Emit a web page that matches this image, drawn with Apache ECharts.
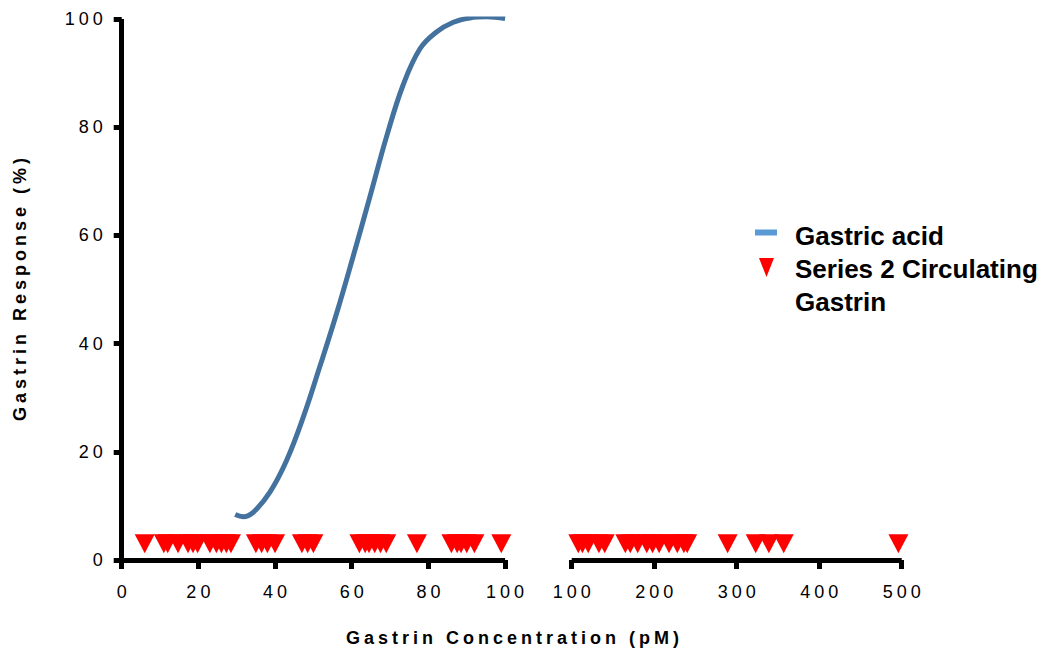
<!DOCTYPE html>
<html>
<head>
<meta charset="utf-8">
<script src="https://cdn.jsdelivr.net/npm/echarts@6/dist/echarts.min.js"></script>
<style>
html,body{margin:0;padding:0;background:#fff;}
#c{width:1050px;height:649px;}
</style>
</head>
<body>
<div id="c"></div>
<script>
// ---- data ----
const seriesNames = ['Gastric acid', 'Series 2 Circulating Gastrin'];
const acidX = [29.6, 31.7, 34.3, 38.7, 43.0, 47.4, 51.7, 56.1, 60.4, 64.8, 69.1, 73.4, 77.8, 82.1, 86.5, 90.8, 95.2, 100];
const acidY = [8.4, 8.0, 8.8, 12.6, 18.4, 26.5, 35.8, 45.7, 56.2, 67.3, 78.3, 87.8, 94.5, 97.6, 99.4, 100.2, 100.4, 100.1];
const gastrinConc = [6, 11, 12, 14.7, 17.3, 18.6, 19.8, 23, 24.7, 26, 27.3, 28.5,
  35, 36.5, 38, 40, 47, 48.5, 50, 62, 63.5, 64.5, 66, 67.5, 69, 77, 86, 87.5, 88.5, 90, 92, 99,
  108, 113, 120, 133, 140, 165, 171, 180, 191, 198, 206, 218, 228, 236, 240, 289, 323, 339, 357, 496];
const gastrinLevel = 3;
const xTicksLow = [0, 20, 40, 60, 80, 100];
const xTicksHigh = [100, 200, 300, 400, 500];
const yTicks = [0, 20, 40, 60, 80, 100];
const xTitle = 'Gastrin Concentration (pM)';
const yTitle = 'Gastrin Response (%)';

// ---- build ----
const FONT = '"Liberation Sans", Arial, Helvetica, sans-serif';
const SPACING = 4;
const acidData = acidX.map((x, i) => [x, acidY[i]]);
const lowData = gastrinConc.filter(v => v <= xTicksLow[xTicksLow.length - 1]).map(v => [v, gastrinLevel]);
const highData = gastrinConc.filter(v => v > xTicksLow[xTicksLow.length - 1]).map(v => [v, gastrinLevel]);

const axisLine = {show: true, onZero: false, lineStyle: {color: '#000', width: 5, cap: 'butt'}};
const tickX = {show: true, length: 9, lineStyle: {color: '#000', width: 5}};
const tickY = {show: true, length: 8, lineStyle: {color: '#000', width: 5}};
const labelX = {color: '#000', fontSize: 18, fontFamily: FONT, margin: 23};
const labelY = {color: '#000', fontSize: 18, fontFamily: FONT, margin: 15};

function rangeOf(t) { return {min: t[0], max: t[t.length - 1], interval: t[1] - t[0]}; }

const chart = echarts.init(document.getElementById('c'), null, {renderer: 'svg'});
const triPath = 'path://M0,0L0.01,0M4,5.5L19,5.5L11.5,24.5ZM35,66L35.01,66';
const rectPath = 'path://M0,0L22,0L22,6L0,6ZM35,13L35.01,13';

chart.setOption({
  animation: false,
  backgroundColor: '#fff',
  title: {
    text: xTitle, left: 346, top: 629, padding: 0,
    textStyle: {fontSize: 18, fontWeight: 'bold', fontFamily: FONT, color: '#000'}
  },
  grid: [
    {left: 121.7, top: 19, width: 383.4, height: 541},
    {left: 571.7, top: 19, width: 330, height: 541}
  ],
  xAxis: [
    Object.assign({gridIndex: 0, type: 'value', axisLine, axisTick: tickX, axisLabel: labelX, splitLine: {show: false}}, rangeOf(xTicksLow)),
    Object.assign({gridIndex: 1, type: 'value', axisLine, axisTick: tickX, axisLabel: labelX, splitLine: {show: false}}, rangeOf(xTicksHigh))
  ],
  yAxis: [
    Object.assign({gridIndex: 0, type: 'value', axisLine, axisTick: tickY, axisLabel: labelY, splitLine: {show: false},
      name: yTitle, nameLocation: 'middle', nameGap: 93,
      nameTextStyle: {fontSize: 18, fontWeight: 'bold', fontFamily: FONT, color: '#000'}}, rangeOf(yTicks)),
    Object.assign({gridIndex: 1, type: 'value', show: false}, rangeOf(yTicks))
  ],
  legend: [
    {
      orient: 'vertical', left: 755, top: 219.5, padding: 0,
      itemWidth: 35, itemHeight: 13,
      textStyle: {fontSize: 26, fontWeight: 'bold', fontFamily: FONT, color: '#000', lineHeight: 33},
      data: [{name: seriesNames[0], icon: rectPath, itemStyle: {color: '#5b9bd5', borderWidth: 0}}]
    },
    {
      orient: 'vertical', left: 755, top: 252.5, padding: 0,
      itemWidth: 35, itemHeight: 66,
      textStyle: {fontSize: 26, fontWeight: 'bold', fontFamily: FONT, color: '#000', lineHeight: 33},
      formatter: n => n.replace(' Gastrin', '\nGastrin'),
      data: [{name: seriesNames[1], icon: triPath, itemStyle: {color: '#ff0000', borderWidth: 0}}]
    }
  ],
  series: [
    {
      name: seriesNames[0], type: 'line', xAxisIndex: 0, yAxisIndex: 0,
      data: acidData, smooth: 0.4, showSymbol: false, symbol: 'none',
      lineStyle: {color: '#43729f', width: 5}, itemStyle: {color: '#43729f'}, z: 3
    },
    {
      name: seriesNames[1], type: 'scatter', xAxisIndex: 0, yAxisIndex: 0,
      data: lowData, symbol: 'triangle', symbolRotate: 180, symbolSize: [20, 19],
      itemStyle: {color: '#ff0000', opacity: 1}, z: 4
    },
    {
      name: seriesNames[1], type: 'scatter', xAxisIndex: 1, yAxisIndex: 1,
      data: highData, symbol: 'triangle', symbolRotate: 180, symbolSize: [20, 19],
      itemStyle: {color: '#ff0000', opacity: 1}, z: 4
    }
  ]
});

function applySpacing() {
  document.querySelectorAll('#c text').forEach(t => {
    const s = t.textContent;
    if (/^\d+$/.test(s) || s === xTitle || s === yTitle) {
      t.style.letterSpacing = SPACING + 'px';
      const anchor = t.getAttribute('text-anchor') || getComputedStyle(t).textAnchor;
      if (anchor === 'middle') t.setAttribute('dx', SPACING / 2);
    }
  });
}
chart.on('finished', applySpacing);
applySpacing();
setTimeout(applySpacing, 50);
</script>
</body>
</html>
